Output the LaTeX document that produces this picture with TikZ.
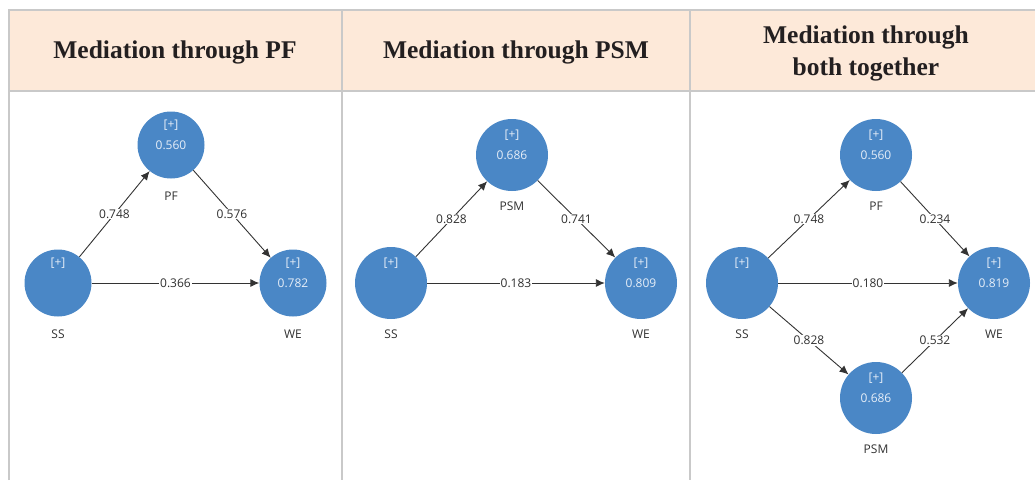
\documentclass[tikz,border=0pt]{standalone}
\usepackage{fontspec}
\setmainfont{Liberation Serif}
\newfontfamily\uifont{Open Sans}
\usetikzlibrary{arrows.meta}

\definecolor{headfill}{HTML}{FDE9D9}
\definecolor{gridgray}{HTML}{C9C9C9}
\definecolor{lvblue}{HTML}{4A87C6}
\definecolor{lvtext}{HTML}{E6EEF8}
\definecolor{headtext}{HTML}{231F20}
\definecolor{lbltext}{HTML}{303030}

\tikzset{
  grid/.style={draw=gridgray, line width=1.6pt},
  headtxt/.style={font=\fontsize{25.5}{32}\selectfont\bfseries, text=headtext, align=center},
  lv/.style={circle, fill=lvblue, inner sep=0pt},
  lvtxt/.style={font=\uifont\fontsize{12}{14}\selectfont, text=lvtext, inner sep=0pt},
  namelbl/.style={font=\uifont\fontsize{12}{14}\selectfont, text=lbltext, inner sep=0pt},
  path/.style={draw=black!80, line width=0.9pt, -{Latex[length=9pt,width=8pt]}},
  coef/.style={font=\uifont\fontsize{12}{14}\selectfont, text=lbltext, fill=white, inner sep=1pt},
}

% latent variable: name, x, y, diameter, value, caption
\newcommand\latent[6]{%
  \node[lv, minimum size=#4] (#1) at (#2,#3) {};
  \node[lvtxt] at (#2,#3-20) {[+]};
  \node[lvtxt] at (#2,#3) {#5};
  \node[namelbl] at (#2,#3+51) {#6};
}

\begin{document}
\begin{tikzpicture}[x=1pt,y=-1pt]
\useasboundingbox (0,0) rectangle (1035,480);

% table frame and header band
\fill[headfill] (9,10) rectangle (1035,91);
\draw[grid] (9,480) -- (9,10) -- (1035,10);
\draw[grid] (9,91) -- (1035,91);
\draw[grid] (342,10) -- (342,480);
\draw[grid] (690,10) -- (690,480);

\node[headtxt] (h1) at (175,52) {Mediation through PF};
\node[headtxt] (h2) at (516,52) {Mediation through PSM};
\node[headtxt] (h3) at (866,53) {Mediation through\\both together};

% panel 1: mediation through PF
\latent{ssA}{58}{283}{67}{}{SS}
\latent{pfA}{171}{145}{67}{0.560}{PF}
\latent{weA}{293}{283}{67}{0.782}{WE}
\draw[path] (ssA) -- node[coef] {0.748} (pfA);
\draw[path] (pfA) -- node[coef] {0.576} (weA);
\draw[path] (ssA) -- node[coef] {0.366} (weA);

% panel 2: mediation through PSM
\latent{ssB}{391}{283}{72}{}{SS}
\latent{psmB}{512}{155}{72}{0.686}{PSM}
\latent{weB}{641}{283}{72}{0.809}{WE}
\draw[path] (ssB) -- node[coef] {0.828} (psmB);
\draw[path] (psmB) -- node[coef] {0.741} (weB);
\draw[path] (ssB) -- node[coef] {0.183} (weB);

% panel 3: both mediators together
\latent{ssC}{742}{283}{72}{}{SS}
\latent{pfC}{876}{155}{72}{0.560}{PF}
\latent{weC}{994}{283}{72}{0.819}{WE}
\latent{psmC}{876}{398}{72}{0.686}{PSM}
\draw[path] (ssC) -- node[coef] {0.748} (pfC);
\draw[path] (pfC) -- node[coef] {0.234} (weC);
\draw[path] (ssC) -- node[coef] {0.180} (weC);
\draw[path] (ssC) -- node[coef] {0.828} (psmC);
\draw[path] (psmC) -- node[coef] {0.532} (weC);
\end{tikzpicture}
\end{document}
